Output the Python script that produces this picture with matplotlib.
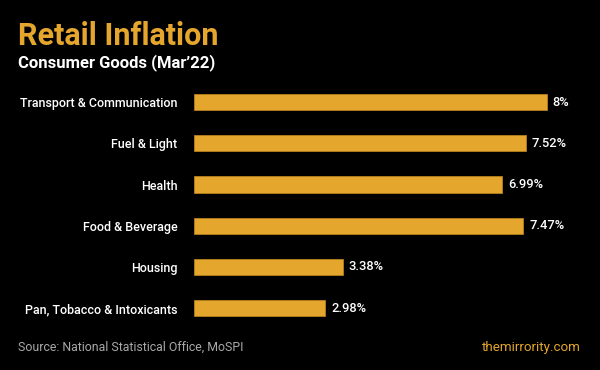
import matplotlib
matplotlib.use("Agg")
import matplotlib.pyplot as plt

categories = ["Transport & Communication", "Fuel & Light", "Health",
              "Food & Beverage", "Housing", "Pan, Tobacco & Intoxicants"]
values = [8, 7.52, 6.99, 7.47, 3.38, 2.98]
value_labels = ["8%", "7.52%", "6.99%", "7.47%", "3.38%", "2.98%"]

GOLD = "#E4A62C"
plt.rcParams['font.family'] = ['Roboto', 'DejaVu Sans']

fig = plt.figure(figsize=(6, 3.7), dpi=100, facecolor="black")
ax = fig.add_axes([194/600, 1 - 328.6/370, 441/600, 247/370])
ax.set_facecolor("black")
ypos = list(range(len(categories)))
ax.barh(ypos, values, height=0.39, color=GOLD, edgecolor="#B7801E", linewidth=0.6)
ax.set_xlim(0, 10)
ax.set_ylim(len(categories) - 0.5, -0.5)
for y, v, lab in zip(ypos, values, value_labels):
    ax.text(v + 0.13, y, lab, color="white", fontsize=9.3, fontweight="medium",
            va="center", ha="left")
ax.set_yticks(ypos)
ax.set_yticklabels(categories, color="white", fontsize=9.0, fontweight="medium")
ax.tick_params(axis="y", length=0, pad=12)
ax.set_xticks([])
for s in ax.spines.values():
    s.set_visible(False)

fig.text(18/600, 1 - 45/370, "Retail Inflation", color=GOLD, fontsize=22,
         fontweight="bold", ha="left", va="baseline")
fig.text(18/600, 1 - 67/370, "Consumer Goods (Mar\u201922)", color="white", fontsize=12,
         fontweight="bold", ha="left", va="baseline")
fig.text(18/600, 1 - 347/370, "Source: National Statistical Office, MoSPI", color="#A8A8A8",
         fontsize=8.9, ha="left", va="center")
fig.text(581/600, 1 - 347/370, "themirrority.com", color=GOLD,
         fontsize=9.6, ha="right", va="center")

fig.savefig("out.png", dpi=100, facecolor="black")
